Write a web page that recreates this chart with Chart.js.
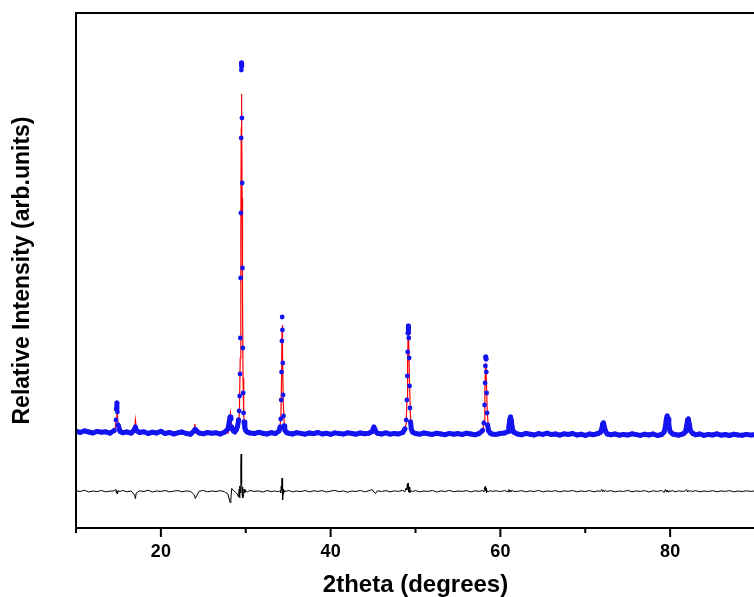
<!DOCTYPE html>
<html>
<head>
<meta charset="utf-8">
<script src="https://cdn.jsdelivr.net/npm/chart.js@4.4.1/dist/chart.umd.min.js"></script>
<style>
  html, body { margin: 0; padding: 0; overflow: hidden; background: #fff; }
  canvas { display: block; }
</style>
</head>
<body>
<canvas id="xrd" width="770" height="597"></canvas>
<script>
// 2theta grid of the measured pattern (observed + difference share it)
const twoTheta = [
  10.0, 10.5, 11.0, 11.5, 12.0, 12.5, 13.0, 13.5, 14.0, 14.5,
  14.7, 14.76, 14.82, 14.88, 14.96, 15.2, 15.5, 16.0, 16.5, 16.9,
  17.0, 17.1, 17.5, 18.0, 18.5, 19.0, 19.5, 20.0, 20.5, 21.0,
  21.5, 22.0, 22.5, 23.0, 23.5, 23.95, 24.05, 24.5, 25.0, 25.5,
  26.0, 26.5, 27.0, 27.5, 27.9, 28.05, 28.15, 28.25, 28.35, 28.5,
  28.7, 28.9, 29.05, 29.15, 29.22, 29.28, 29.32, 29.36, 29.4, 29.43,
  29.46, 29.48, 29.5, 29.52, 29.55, 29.58, 29.62, 29.66, 29.7, 29.75,
  29.8, 29.9, 30.0, 30.2, 30.5, 31.0, 31.5, 32.0, 32.5, 33.0,
  33.5, 33.9, 34.05, 34.12, 34.18, 34.22, 34.26, 34.29, 34.32, 34.36,
  34.4, 34.45, 34.52, 34.6, 34.8, 35.0, 35.5, 36.0, 36.5, 37.0,
  37.5, 38.0, 38.5, 39.0, 39.5, 40.0, 40.5, 41.0, 41.5, 42.0,
  42.5, 43.0, 43.5, 44.0, 44.5, 44.9, 45.1, 45.3, 45.5, 46.0,
  46.5, 47.0, 47.5, 48.0, 48.5, 48.75, 48.9, 48.98, 49.04, 49.08,
  49.12, 49.15, 49.18, 49.21, 49.25, 49.3, 49.35, 49.42, 49.5, 49.65,
  50.0, 50.5, 51.0, 51.5, 52.0, 52.5, 53.0, 53.5, 54.0, 54.5,
  55.0, 55.5, 56.0, 56.5, 57.0, 57.5, 57.9, 58.05, 58.14, 58.2,
  58.24, 58.28, 58.31, 58.34, 58.38, 58.43, 58.5, 58.6, 58.8, 59.0,
  59.5, 60.0, 60.5, 60.9, 61.0, 61.1, 61.2, 61.3, 61.4, 61.55, 62.0,
  62.5, 63.0, 63.5, 64.0, 64.5, 65.0, 65.5, 66.0, 66.5, 67.0,
  67.5, 68.0, 68.5, 69.0, 69.5, 70.0, 70.5, 71.0, 71.5, 71.8,
  71.95, 72.05, 72.15, 72.25, 72.4, 72.6, 73.0, 73.5, 74.0, 74.5, 75.0, 75.5,
  76.0, 76.5, 77.0, 77.5, 78.0, 78.5, 79.0, 79.3, 79.45, 79.55,
  79.65, 79.75, 79.85, 80.0, 80.3, 80.6, 81.0, 81.5, 81.8, 81.95,
  82.05, 82.15, 82.25, 82.4, 82.7, 83.0, 83.5, 84.0, 84.5, 85.0, 85.5, 86.0,
  86.5, 87.0, 87.5, 88.0, 88.5, 89.0, 89.5, 90.0
];

const observed = [
  968, 955, 972, 960, 950, 966, 958, 962, 948, 975,
  1080, 1190, 1250, 1160, 1030, 965, 952, 960, 948, 985,
  1010, 975, 955, 962, 945, 958, 950, 967, 944, 956,
  940, 952, 960, 945, 938, 975, 985, 950, 942, 955,
  948, 952, 940, 958, 990, 1060, 1110, 1090, 1010, 975,
  960, 985, 1020, 1080, 1170, 1320, 1540, 1900, 2500, 3150,
  3900, 4580, 4650, 4620, 4100, 3450, 2600, 1800, 1350, 1150,
  1060, 1000, 975, 958, 950, 944, 957, 948, 940, 953,
  945, 968, 1010, 1090, 1280, 1560, 1870, 2110, 1980, 1650,
  1330, 1120, 1020, 980, 955, 948, 940, 953, 946, 938,
  950, 943, 955, 940, 948, 936, 951, 944, 939, 952,
  945, 938, 950, 942, 948, 965, 1010, 970, 947, 940,
  952, 938, 946, 940, 955, 990, 1080, 1280, 1520, 1760,
  1950, 2020, 2000, 1900, 1700, 1420, 1200, 1060, 990, 958,
  945, 938, 950, 942, 936, 948, 940, 933, 946, 938,
  944, 935, 948, 940, 932, 945, 975, 1050, 1230, 1450,
  1620, 1710, 1690, 1560, 1350, 1150, 1030, 975, 950, 940,
  936, 945, 950, 965, 1010, 1080, 1110, 1070, 1000, 960, 940,
  932, 946, 938, 930, 944, 936, 948, 934, 940, 928,
  942, 935, 945, 930, 938, 926, 940, 933, 945, 958,
  990, 1040, 1050, 1010, 965, 940, 932, 940, 928, 936, 930, 942,
  934, 926, 938, 930, 940, 925, 935, 960, 1020, 1090,
  1120, 1090, 1030, 965, 940, 935, 928, 940, 960, 1020,
  1080, 1090, 1040, 970, 945, 932, 940, 926, 936, 930, 942, 928,
  935, 925, 938, 930, 927, 936, 929, 933
];

// observed - calculated, shifted down under the pattern
const difference = [
  372, 365, 378, 360, 370, 364, 375, 362, 368, 372,
  385, 350, 375, 340, 372, 365, 376, 362, 370, 330,
  295, 350, 372, 365, 378, 360, 370, 366, 375, 361,
  369, 374, 362, 371, 366, 330, 295, 368, 375, 362,
  370, 365, 374, 362, 340, 290, 255, 300, 395, 380,
  365, 350, 330, 310, 390, 300, 420, 350, 520, 600,
  740, 690, 650, 580, 450, 330, 410, 300, 320, 340,
  390, 355, 372, 362, 375, 366, 371, 360, 374, 365,
  370, 362, 375, 350, 420, 380, 460, 500, 330, 280,
  340, 390, 360, 372, 365, 376, 362, 370, 364, 375,
  361, 372, 366, 374, 360, 369, 376, 363, 371, 358,
  370, 365, 376, 362, 372, 385, 360, 345, 372, 365,
  374, 362, 371, 366, 376, 362, 400, 380, 440, 400,
  450, 390, 430, 360, 410, 350, 385, 360, 372, 365,
  374, 362, 370, 366, 375, 360, 371, 365, 376, 363,
  370, 366, 374, 361, 372, 366, 375, 360, 410, 380,
  420, 370, 400, 350, 385, 365, 372, 362, 375, 366,
  372, 364, 375, 362, 385, 360, 378, 362, 380, 366, 366,
  374, 362, 371, 365, 376, 362, 370, 366, 374, 361,
  372, 366, 375, 362, 370, 365, 374, 362, 371, 366,
  385, 360, 380, 366, 372, 366, 374, 362, 370, 365, 376, 362,
  371, 366, 374, 360, 372, 366, 375, 355, 385, 362,
  380, 360, 372, 366, 374, 362, 371, 366, 372, 384,
  360, 376, 364, 372, 366, 374, 362, 370, 365, 374, 362, 371,
  366, 374, 362, 370, 365, 372, 366, 370
];

// refined (calculated) profile
const calcTheta = [
  10.0, 14.6, 14.72, 14.82, 14.92, 15.05, 16.85, 17.0, 17.15, 23.9,
  24.0, 24.1, 27.95, 28.1, 28.2, 28.3, 28.45, 29.1, 29.25, 29.35,
  29.42, 29.47, 29.5, 29.53, 29.57, 29.62, 29.68, 29.76, 29.9, 30.1,
  34.0, 34.15, 34.22, 34.28, 34.31, 34.35, 34.42, 34.55, 34.75, 44.95,
  45.1, 45.25, 48.7, 48.9, 49.0, 49.07, 49.13, 49.18, 49.23, 49.3,
  49.4, 49.55, 49.75, 57.9, 58.08, 58.17, 58.25, 58.3, 58.36, 58.45,
  58.6, 58.8, 60.85, 61.05, 61.2, 61.35, 61.6, 71.85, 72.0, 72.1,
  72.2, 72.45, 79.3, 79.5, 79.65, 79.8, 80.05, 81.8, 82.0, 82.12,
  82.25, 82.5, 90.0
];
const calculated = [
  962, 958, 1100, 1230, 1080, 958, 956, 1080, 955, 948,
  1040, 948, 952, 1080, 1150, 1060, 962, 990, 1150, 1700,
  2900, 4000, 4340, 4100, 3300, 2300, 1500, 1120, 990, 958,
  955, 1150, 1500, 2000, 2030, 1750, 1250, 1010, 952, 945,
  995, 945, 948, 1050, 1300, 1650, 1950, 2000, 1800, 1450,
  1120, 990, 950, 945, 1080, 1350, 1640, 1650, 1450, 1160,
  990, 945, 945, 1040, 1105, 1050, 946, 935, 1010, 1045,
  1020, 938, 934, 1060, 1115, 1050, 936, 932, 1050, 1085,
  1040, 932, 932
];

const xTickLabels = [20, 40, 60, 80];

const FONT = "'Liberation Sans', Arial, sans-serif";
const BLUE = '#1414f0';

const obsPoints = twoTheta.map((t, i) => ({ x: t, y: observed[i] }));
const diffPoints = twoTheta.map((t, i) => ({ x: t, y: difference[i] }));
const calcPoints = calcTheta.map((t, i) => ({ x: t, y: calculated[i] }));

// box round the plot + outward ticks on the bottom axis
const framePlugin = {
  id: 'frame',
  afterDraw(chart) {
    const { ctx, chartArea: a, scales: { x } } = chart;
    ctx.save();
    ctx.strokeStyle = '#000';
    ctx.lineWidth = 2;
    ctx.strokeRect(a.left, a.top, a.right - a.left, a.bottom - a.top);
    ctx.beginPath();
    for (let v = 10; v <= 90; v += 10) {
      const px = x.getPixelForValue(v);
      const len = xTickLabels.includes(v) ? 9 : 5;
      ctx.moveTo(px, a.bottom);
      ctx.lineTo(px, a.bottom + len);
    }
    ctx.stroke();
    ctx.restore();
  },
};

new Chart(document.getElementById('xrd'), {
  type: 'line',
  data: {
    datasets: [
      {
        label: 'Observed',
        data: obsPoints,
        showLine: false,
        pointRadius: 2.4,
        pointBackgroundColor: BLUE,
        pointBorderWidth: 0,
        order: 0,
      },
      {
        // dense band of the measured points along the background
        label: 'Observed band',
        data: obsPoints,
        borderColor: BLUE,
        borderWidth: 5,
        borderJoinStyle: 'round',
        borderCapStyle: 'round',
        pointRadius: 0,
        segment: {
          borderColor: (c) => (Math.abs(c.p1.y - c.p0.y) > 7 ? 'rgba(0,0,0,0)' : BLUE),
        },
        order: 1,
      },
      {
        label: 'Calculated',
        data: calcPoints,
        borderColor: '#ff0000',
        borderWidth: 1.2,
        pointRadius: 0,
        order: 2,
      },
      {
        label: 'Difference',
        data: diffPoints,
        borderColor: '#000',
        borderWidth: 1,
        pointRadius: 0,
        order: 3,
      },
    ],
  },
  options: {
    responsive: false,
    animation: false,
    devicePixelRatio: 1,
    layout: { padding: { top: 13, left: 9, right: 8, bottom: 0 } },
    elements: { line: { tension: 0 } },
    plugins: {
      legend: { display: false },
      tooltip: { enabled: false },
    },
    scales: {
      x: {
        type: 'linear',
        min: 10,
        max: 90,
        afterFit(s) { s.height = 69; },
        grid: { display: false, drawTicks: false },
        border: { display: false },
        ticks: {
          stepSize: 10,
          autoSkip: false,
          maxRotation: 0,
          padding: 15,
          color: '#000',
          font: { family: FONT, size: 18, weight: 'bold', lineHeight: 1 },
          callback: (v) => (xTickLabels.includes(v) ? String(v) : ''),
        },
        title: {
          display: true,
          text: '2theta (degrees)',
          color: '#000',
          padding: 0,
          font: { family: FONT, size: 24, weight: 'bold', lineHeight: 1 },
        },
      },
      y: {
        min: 0,
        max: 5150,
        afterFit(s) { s.width = 67; },
        grid: { display: false, drawTicks: false },
        border: { display: false },
        ticks: { display: false },
        title: {
          display: true,
          text: 'Relative Intensity (arb.units)',
          color: '#000',
          padding: 0,
          font: { family: FONT, size: 23, weight: 'bold', lineHeight: 1.2 },
        },
      },
    },
  },
  plugins: [framePlugin],
});
</script>
</body>
</html>
